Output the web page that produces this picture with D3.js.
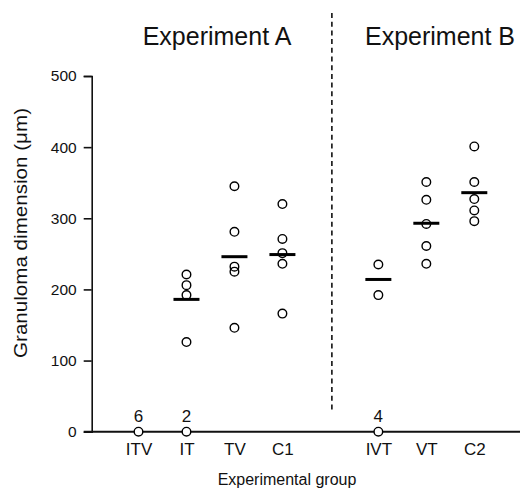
<!DOCTYPE html>
<html lang="en">
  <head>
    <meta charset="UTF-8" />
    <script src="https://cdn.jsdelivr.net/npm/d3@7"></script>
    <title>Granuloma dimension</title>
    <style>
      body {
        margin: 0;
        background: white;
      }
      text {
        font-family: "Liberation Sans", Arial, sans-serif;
        fill: #111;
      }
    </style>
  </head>
  <body>
    <script>
      /*------------------- data --------------------*/
      // categories along x ("gap" is the empty slot for the separator)
      const groups = ["ITV", "IT", "TV", "C1", "gap", "IVT", "VT", "C2"];
      // individual non-zero granuloma measurements per group (um)
      const measurements = {
        ITV: [],
        IT: [221, 206, 192, 126],
        TV: [345, 281, 232, 225, 146],
        C1: [320, 271, 251, 236, 166],
        IVT: [235, 192],
        VT: [351, 326, 292, 261, 236],
        C2: [401, 351, 327, 311, 296],
      };
      // group means (horizontal bars)
      const meanGroups = ["IT", "TV", "C1", "IVT", "VT", "C2"];
      const means = [186, 246, 249, 214, 293, 336];
      // animals with no granuloma, drawn at zero with their count
      const zeroGroups = ["ITV", "IT", "IVT"];
      const zeroCounts = [6, 2, 4];
      const yTicks = [0, 100, 200, 300, 400, 500];
      const experiments = ["Experiment A", "Experiment B"];

      /*------------------- layout --------------------*/
      const width = 520,
        height = 488;
      const font = "Liberation Sans, Arial, sans-serif";

      const svg = d3
        .select("body")
        .append("svg")
        .attr("width", width)
        .attr("height", height);

      const x = d3.scalePoint().domain(groups).range([138.5, 474.3]);
      const y = d3.scaleLinear().domain([0, 500]).range([431.7, 76]);
      const axisX = 91.7;

      // y axis
      const yAxis = svg
        .append("g")
        .attr("transform", `translate(${axisX},0)`)
        .call(d3.axisLeft(y).tickValues(yTicks).tickSize(8).tickPadding(7));
      yAxis.select(".domain").attr("stroke-width", 1.6).attr("stroke", "#111");
      yAxis.selectAll(".tick line").attr("stroke-width", 1.6).attr("stroke", "#111");
      yAxis
        .selectAll(".tick text")
        .style("font-size", "15.5px")
        .style("font-family", font)
        .style("fill", "#111");
      yAxis.selectAll(".tick").filter((d) => d === 0).select("line").remove();

      // x axis
      const xAxis = svg
        .append("g")
        .attr("transform", `translate(0,${y(0)})`)
        .call(
          d3
            .axisBottom(x)
            .tickSize(0)
            .tickPadding(11)
            .tickFormat((d) => (d === "gap" ? "" : d))
        );
      xAxis.select(".domain").remove();
      xAxis
        .selectAll(".tick text")
        .style("font-size", "17px")
        .style("font-family", font)
        .style("fill", "#111");
      svg
        .append("line")
        .attr("x1", axisX - 8)
        .attr("x2", width)
        .attr("y1", y(0))
        .attr("y2", y(0))
        .attr("stroke", "#111")
        .attr("stroke-width", 2);

      // separator between experiments
      svg
        .append("line")
        .attr("x1", x("gap") + 1.5)
        .attr("x2", x("gap") + 1.5)
        .attr("y1", 13)
        .attr("y2", 412)
        .attr("stroke", "#111")
        .attr("stroke-width", 1.6)
        .attr("stroke-dasharray", "5,3.7");

      // experiment titles
      svg
        .selectAll(".exp")
        .data(experiments)
        .join("text")
        .attr("class", "exp")
        .attr("x", (d, i) => (i === 0 ? 217 : 440))
        .attr("y", 45)
        .attr("text-anchor", "middle")
        .style("font-size", "25px")
        .text((d) => d);

      // axis titles
      svg
        .append("text")
        .attr("transform", `translate(27,233) rotate(-90)`)
        .attr("text-anchor", "middle")
        .attr("textLength", 250)
        .attr("lengthAdjust", "spacingAndGlyphs")
        .style("font-size", "18px")
        .text("Granuloma dimension (\u03bcm)");
      svg
        .append("text")
        .attr("x", 287)
        .attr("y", 485)
        .attr("text-anchor", "middle")
        .style("font-size", "16px")
        .text("Experimental group");

      // mean bars
      svg
        .selectAll(".mean")
        .data(meanGroups)
        .join("line")
        .attr("class", "mean")
        .attr("x1", (d) => x(d) - 13)
        .attr("x2", (d) => x(d) + 13)
        .attr("y1", (d, i) => y(means[i]))
        .attr("y2", (d, i) => y(means[i]))
        .attr("stroke", "#000")
        .attr("stroke-width", 3);

      // individual points
      const pts = [];
      groups.forEach((g) => {
        (measurements[g] || []).forEach((v) => pts.push({ g, v }));
      });
      zeroGroups.forEach((g) => pts.push({ g, v: 0 }));

      svg
        .selectAll(".pt")
        .data(pts)
        .join("circle")
        .attr("class", "pt")
        .attr("cx", (d) => x(d.g))
        .attr("cy", (d) => y(d.v))
        .attr("r", 4.3)
        .attr("fill", "none")
        .attr("stroke", "#000")
        .attr("stroke-width", 1.4);

      // zero points get a white fill over the axis line
      svg
        .selectAll(".pt")
        .filter((d) => d.v === 0)
        .attr("fill", "white")
        .raise();

      // counts above zero points
      svg
        .selectAll(".count")
        .data(zeroGroups)
        .join("text")
        .attr("class", "count")
        .attr("x", (d) => x(d))
        .attr("y", 422)
        .attr("text-anchor", "middle")
        .style("font-size", "17px")
        .text((d, i) => zeroCounts[i]);
    </script>
  </body>
</html>
